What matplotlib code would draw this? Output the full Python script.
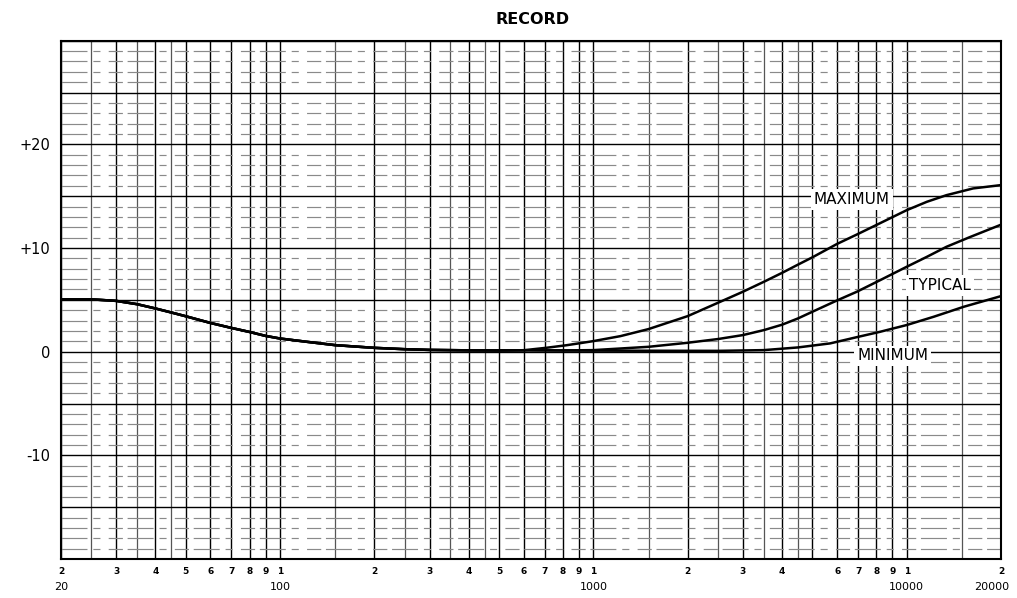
import matplotlib
matplotlib.use("Agg")
import matplotlib.pyplot as plt
import numpy as np

# ---------------- data ----------------
freq_common = [20, 25, 30, 35, 40, 45, 50, 60, 70, 80, 90, 100, 122, 150, 200, 250, 300, 400, 500, 600]
db_common = [5.05, 5.05, 4.9, 4.58, 4.17, 3.78, 3.42, 2.77, 2.29, 1.9, 1.52, 1.27, 0.95, 0.63, 0.37, 0.24, 0.17, 0.13, 0.12, 0.14]

freq_max = [710, 820, 907, 1000, 1220, 1500, 2000, 2500, 3000, 3500, 4000, 4500, 5000, 6000, 6930, 8230,
            10000, 11600, 13400, 16300, 20000]
db_max = [0.38, 0.62, 0.82, 1.02, 1.5, 2.18, 3.43, 4.72, 5.78, 6.74, 7.6, 8.4, 9.1, 10.4, 11.3, 12.4,
          13.65, 14.46, 15.1, 15.75, 16.07]

freq_typ = [800, 1000, 1500, 2000, 2500, 3000, 3500, 4000, 4500, 5000, 6000, 6930, 8230, 10000, 11600,
            13400, 15900, 20000]
db_typ = [0.12, 0.15, 0.47, 0.86, 1.22, 1.6, 2.08, 2.6, 3.21, 3.85, 4.95, 5.78, 6.9, 8.19, 9.15,
          10.12, 11.05, 12.25]

freq_min = [1000, 2500, 3500, 4500, 5700, 6930, 8230, 10000, 12200, 15200, 20000]
db_min = [0.1, 0.08, 0.15, 0.41, 0.8, 1.4, 1.92, 2.57, 3.37, 4.33, 5.36]

curve_labels = ["MAXIMUM", "TYPICAL", "MINIMUM"]

ytick_values = [20, 10, 0, -10]
ytick_labels = ["+20", "+10", "0", "-10"]

xtick_freqs = [20, 30, 40, 50, 60, 70, 80, 90, 100,
               200, 300, 400, 500, 600, 700, 800, 900, 1000,
               2000, 3000, 4000, 6000, 7000, 8000, 9000, 10000, 20000]
xtick_digits = ["2", "3", "4", "5", "6", "7", "8", "9", "1",
                "2", "3", "4", "5", "6", "7", "8", "9", "1",
                "2", "3", "4", "6", "7", "8", "9", "1", "2"]

decade_freqs = [20, 100, 1000, 10000, 20000]
decade_labels = ["20", "100", "1000", "10000", "20000"]

title = "RECORD"

# ---------------- layout ----------------
W, H = 1017, 598
fig = plt.figure(figsize=(W / 100, H / 100), dpi=100)
ax = fig.add_axes([61 / W, 1 - 559 / H, (1001 - 61) / W, (559 - 40.7) / H])
ax.set_xscale("log")
ax.set_xlim(20, 20000)
ax.set_ylim(-20, 30)

# graph-paper grid
grid_mults = [1, 1.5, 2, 2.5, 3, 3.5, 4, 4.5, 5, 6, 7, 8, 9]
for dec in [10, 100, 1000, 10000]:
    for m in grid_mults:
        f = dec * m
        if 20 <= f <= 20000:
            if float(m).is_integer():
                ax.axvline(f, color="black", lw=1.0, zorder=1)
            else:
                ax.axvline(f, color="#555555", lw=0.9, zorder=1)
for v in range(-20, 31):
    if v % 5 == 0:
        ax.axhline(v, color="black", lw=1.0, zorder=1)
    else:
        ax.axhline(v, color="#8a8a8a", lw=0.85, zorder=1,
                   linestyle=(0, (22, 5, 6, 7, 12, 4)))

# curves
f_max = freq_common + freq_max
d_max = db_common + db_max
f_typ = freq_common + freq_typ
d_typ = db_common + db_typ
f_min = freq_common + freq_min
d_min = db_common + db_min
for f, d in [(f_min, d_min), (f_typ, d_typ), (f_max, d_max)]:
    ax.plot(f, d, color="black", lw=1.8, solid_capstyle="round",
            solid_joinstyle="round", zorder=3)

# curve labels
label_pos = [(6680, 14.7), (12780, 6.4), (9016, -0.4)]
for lab, (x, y) in zip(curve_labels, label_pos):
    ax.text(x, y, lab, ha="center", va="center", fontsize=11, color="black",
            zorder=4, bbox=dict(facecolor="white", edgecolor="none", pad=2))

# axes ticks
ax.set_yticks(ytick_values)
ax.set_yticklabels(ytick_labels, fontsize=10.5)
ax.tick_params(axis="y", length=0, pad=8)
ax.set_xticks(xtick_freqs)
ax.set_xticklabels(xtick_digits, fontsize=6.5, fontweight="bold")
ax.xaxis.set_minor_locator(matplotlib.ticker.NullLocator())
ax.tick_params(axis="x", length=0, pad=6)

offsets = [0, 0, 0, 0, -9]
for f, lab, dx in zip(decade_freqs, decade_labels, offsets):
    ax.annotate(lab, xy=(f, 0), xycoords=ax.get_xaxis_transform(),
                xytext=(dx, -28), textcoords="offset pixels",
                ha="center", va="center", fontsize=8, annotation_clip=False)

for s in ax.spines.values():
    s.set_linewidth(1.5)
    s.set_color("black")

fig.text(533 / W, 1 - 20 / H, title, ha="center", va="center",
         fontsize=11.5, fontweight="bold")

fig.savefig("out.png", dpi=100, facecolor="white")
